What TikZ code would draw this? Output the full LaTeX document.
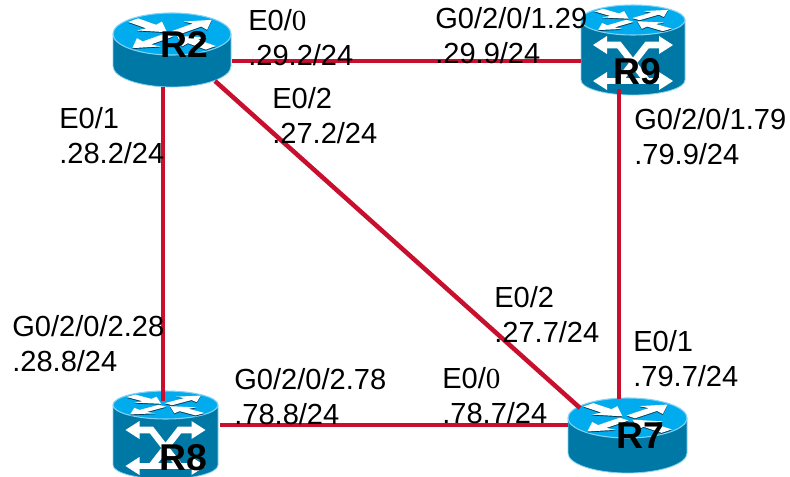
\documentclass[tikz,border=0pt]{standalone}
\usepackage{fontspec}
\setmainfont{Liberation Sans}
\newfontfamily\zerofont{Liberation Serif}
\definecolor{topblue}{RGB}{0,172,238}
\definecolor{sideblue}{RGB}{0,120,165}
\definecolor{rimblue}{RGB}{130,210,245}
\definecolor{shadeblue}{RGB}{0,60,90}
\definecolor{linkred}{RGB}{200,16,46}
\newcommand{\flatarrow}[3]{% angle, direction, colour
  \begin{scope}[rotate=#1]
  \ifnum#2=1
    \fill[#3] (.08,-.10)--(.60,-.10)--(.56,-.28)--(.95,0)--(.56,.28)--(.60,.10)--(.08,.10)--cycle;
  \else
    \fill[#3] (.93,-.12)--(.50,-.12)--(.54,-.30)--(.12,0)--(.54,.30)--(.50,.12)--(.93,.12)--cycle;
  \fi
  \end{scope}}
\newcommand{\arrowset}[1]{\flatarrow{45}{1}{#1}\flatarrow{225}{1}{#1}\flatarrow{135}{0}{#1}\flatarrow{315}{0}{#1}}
\newcommand{\routerbody}[5]{% cx cy rx ry h
  \begin{scope}[shift={(#1,#2)}]
    \fill[sideblue] (-#3,0) -- (-#3,#5) arc[start angle=180,end angle=0,x radius=#3,y radius=#4] -- (#3,0) -- cycle;
    \draw[rimblue,line width=.6pt] (-#3,0) -- (-#3,#5) arc[start angle=180,end angle=0,x radius=#3,y radius=#4] -- (#3,0);
    \draw[fill=topblue,draw=rimblue,line width=.8pt] (0,0) ellipse[x radius=#3,y radius=#4];
    \begin{scope}[yshift=-.7pt,xscale=#3,yscale=#4]\arrowset{shadeblue}\end{scope}
    \begin{scope}[xscale=#3,yscale=#4]\arrowset{white}\end{scope}
  \end{scope}}
\newcommand{\switchmark}[3]{% cx, y top arrow, y bottom arrow
  \begin{scope}[shift={(#1,0)},line join=miter]
    \draw[white,line width=5pt] (-28,#2) -- (-14,#2) -- (14,#3) ;
    \draw[white,line width=5pt] (28,#2) -- (14,#2) -- (-14,#3);
    \draw[white,line width=4pt] (-28,#3) -- (28,#3);
    \fill[white] (-40,#2) -- (-26,#2-9) -- (-26,#2+9) -- cycle;
    \fill[white] (40,#2) -- (26,#2-9) -- (26,#2+9) -- cycle;
    \fill[white] (-40,#3) -- (-26,#3-9) -- (-26,#3+9) -- cycle;
    \fill[white] (40,#3) -- (26,#3-9) -- (26,#3+9) -- cycle;
  \end{scope}}
\tikzset{
  rname/.style={font=\bfseries\fontsize{28pt}{28pt}\selectfont,inner sep=0pt,text=black},
  lbl/.style={font=\fontsize{21.8pt}{26.2pt}\selectfont,align=left,anchor=north west,inner sep=0pt,text=black},
  link/.style={draw=linkred,line width=3.4pt}
}
\begin{document}
\begin{tikzpicture}[x=.75pt,y=-.75pt]
\useasboundingbox (0,0) rectangle (790,476);
\routerbody{172}{34}{59}{21}{32}
\routerbody{633}{20}{52}{15}{60}
\switchmark{633}{45}{81}
\begin{scope}
\clip (0,0) rectangle (790,476);
\routerbody{165.5}{405}{52.5}{14}{60}
\switchmark{165.5}{430}{466}
\end{scope}
\routerbody{627.5}{418}{59.5}{20}{35}
% port coordinates
\coordinate (p2e) at (232,61);
\coordinate (p9w) at (581,61);
\coordinate (p2s) at (163,87);
\coordinate (p8n) at (163,401);
\coordinate (p9s) at (619,89);
\coordinate (p7n) at (619,399);
\coordinate (p2d) at (215,81);
\coordinate (p7d) at (580,408);
\coordinate (p8e) at (220,425);
\coordinate (p7w) at (568,425);
\draw[link] (p2e) -- (p9w);
\draw[link] (p2s) -- (p8n);
\draw[link] (p9s) -- (p7n);
\draw[link] (p2d) -- (p7d);
\draw[link] (p8e) -- (p7w);
\node[rname] (R2) at (184,44) {R2};
\node[rname] (R9) at (637,72) {R9};
\node[rname] (R8) at (183,458) {R8};
\node[rname] (R7) at (640,436) {R7};
\node[lbl] (l1) at (248,9) {E0/{\zerofont 0}\\.29.2/24};
\node[lbl] (l2) at (435,7) {G0/2/0/1.29\\.29.9/24};
\node[lbl] (l3) at (59,107) {E0/1\\.28.2/24};
\node[lbl] (l4) at (272,87) {E0/2\\.27.2/24};
\node[lbl] (l5) at (634,108) {G0/2/0/1.79\\.79.9/24};
\node[lbl] (l6) at (12,315) {G0/2/0/2.28\\.28.8/24};
\node[lbl] (l7) at (494,286) {E0/2\\.27.7/24};
\node[lbl] (l8) at (633,330) {E0/1\\.79.7/24};
\node[lbl] (l9) at (234,368) {G0/2/0/2.78\\.78.8/24};
\node[lbl] (l10) at (442,367) {E0/{\zerofont 0}\\.78.7/24};
\end{tikzpicture}
\end{document}
